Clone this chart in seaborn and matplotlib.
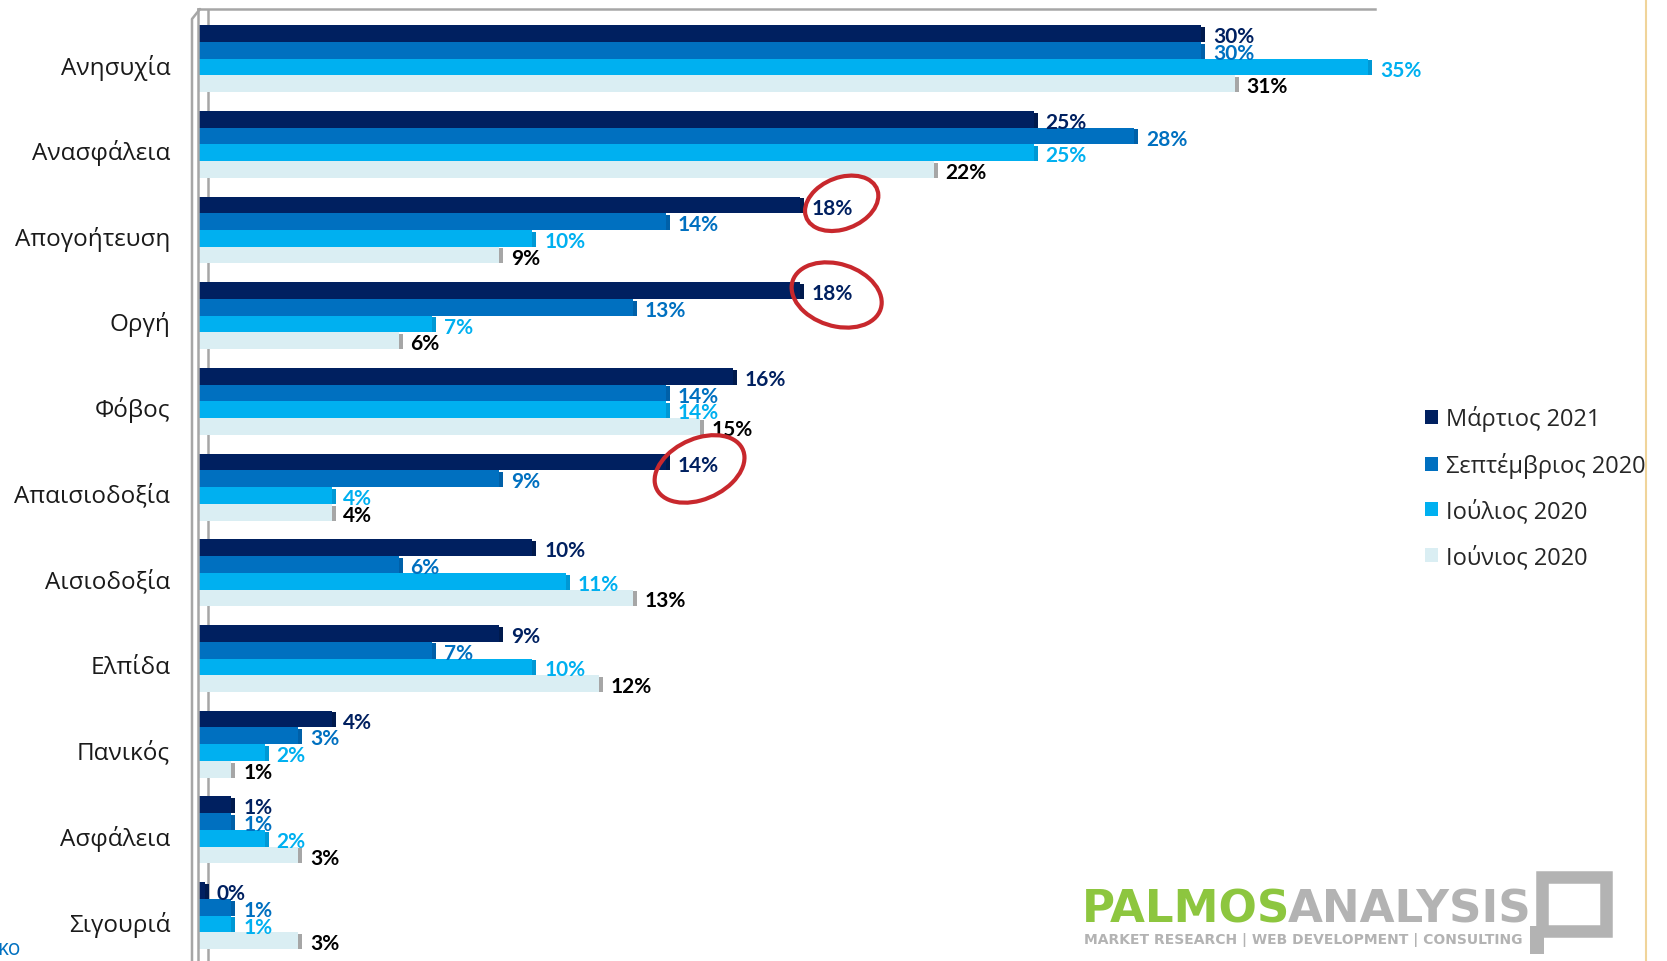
import pandas as pd
import matplotlib.pyplot as plt
import seaborn as sns
from matplotlib.patches import Patch, Rectangle, Ellipse
from matplotlib.lines import Line2D
from matplotlib.transforms import ScaledTranslation

# Emotions (survey), share of respondents per wave
categories = ['Ανησυχία', 'Ανασφάλεια', 'Απογοήτευση', 'Οργή', 'Φόβος', 'Απαισιοδοξία',
              'Αισιοδοξία', 'Ελπίδα', 'Πανικός', 'Ασφάλεια', 'Σιγουριά']
periods = ['Μάρτιος 2021', 'Σεπτέμβριος 2020', 'Ιούλιος 2020', 'Ιούνιος 2020']
mar_2021 = [30, 25, 18, 18, 16, 14, 10, 9, 4, 1, 0.2]
sep_2020 = [30, 28, 14, 13, 14, 9, 6, 7, 3, 1, 1]
jul_2020 = [35, 25, 10, 7, 14, 4, 11, 10, 2, 2, 1]
jun_2020 = [31, 22, 9, 6, 15, 4, 13, 12, 1, 3, 3]
labels_mar = ['30%', '25%', '18%', '18%', '16%', '14%', '10%', '9%', '4%', '1%', '0%']
labels_sep = ['30%', '28%', '14%', '13%', '14%', '9%', '6%', '7%', '3%', '1%', '1%']
labels_jul = ['35%', '25%', '10%', '7%', '14%', '4%', '11%', '10%', '2%', '2%', '1%']
labels_jun = ['31%', '22%', '9%', '6%', '15%', '4%', '13%', '12%', '1%', '3%', '3%']
circled = ['Απογοήτευση', 'Οργή', 'Απαισιοδοξία']

bar_colors = ['#002060', '#0070C0', '#00B0F0', '#DAEEF3']
cap_colors = ['#001a4d', '#0060a8', '#0098d4', '#a6a6a6']
text_colors = ['#002060', '#0070C0', '#00B0F0', '#000000']

W, H = 1667, 962

df = pd.DataFrame({
    'category': categories * 4,
    'period': [p for p in periods for _ in categories],
    'value': mar_2021 + sep_2020 + jul_2020 + jun_2020,
})
all_labels = [labels_mar, labels_sep, labels_jul, labels_jun]

sns.set_style('white')
plt.rcParams['font.family'] = ['Open Sans', 'DejaVu Sans']

fig = plt.figure(figsize=(W / 100, H / 100), dpi=100)
ax = fig.add_axes([198 / W, 0, 1177 / W, 952 / H])

sns.barplot(data=df, x='value', y='category', hue='period', order=categories,
            hue_order=periods, palette=bar_colors, orient='h', width=0.78,
            saturation=1, legend=False, ax=ax, zorder=2, linewidth=0)

ax.set_xlim(0, 35.2)
ax.set_ylim(10.53, -0.58)
ax.set_xlabel('')
ax.set_ylabel('')
ax.set_xticks([])
ax.tick_params(axis='y', length=0, pad=20, labelsize=17.5, labelcolor='#1a1a1a')
for lab in ax.get_yticklabels():
    lab.set_transform(lab.get_transform() + ScaledTranslation(0, -0.05, fig.dpi_scale_trans))
for side in ['right', 'bottom']:
    ax.spines[side].set_visible(False)
for side in ['left', 'top']:
    ax.spines[side].set_color('#a6a6a6')
    ax.spines[side].set_linewidth(1.8)

# back wall line of the 3D frame
ax.axvline(0.3, color='#a6a6a6', lw=1.8, zorder=0)

# value labels + little 3D end caps
for i, cont in enumerate(ax.containers):
    for j, bar in enumerate(cont):
        x_end = bar.get_x() + bar.get_width()
        y0, h = bar.get_y(), bar.get_height()
        ax.add_patch(Rectangle((x_end - 0.06, y0 + h * 0.1), 0.18, h * 0.9,
                               color=cap_colors[i], zorder=1.9, lw=0))
        ax.text(x_end + 0.35, y0 + h / 2 + 0.03, all_labels[i][j], ha='left', va='center',
                fontsize=15, fontweight='bold', family=['Lato', 'DejaVu Sans'],
                color=text_colors[i], zorder=4)

# hand drawn red circles around the March 2021 labels
circle_specs = {'Απογοήτευση': (1.25, 2.2, 0.62, -5, -0.02),
                'Οργή': (1.1, 2.7, 0.74, 4, 0.05),
                'Απαισιοδοξία': (1.0, 2.7, 0.74, -6, 0.08)}
mar_bars = ax.containers[0]
for name in circled:
    k = categories.index(name)
    bar = mar_bars[k]
    dx, w, hh, ang, dy = circle_specs[name]
    yc = bar.get_y() + bar.get_height() / 2 + dy
    ax.add_patch(Ellipse((mar_2021[k] + dx, yc), w, hh, angle=ang, fill=False,
                         ec='#c8282d', lw=3, zorder=5))

# outer edge of 3D wall
def px(x, y):
    return x / W, 1 - y / H

fig.add_artist(Line2D([px(192, 0)[0], px(192, 0)[0], px(200, 0)[0]],
                      [px(0, 962)[1], px(0, 20)[1], px(0, 10)[1]],
                      color='#a6a6a6', lw=1.8))

# legend
handles = [Patch(facecolor=c, edgecolor='none') for c in bar_colors]
fig.legend(handles, periods, loc='upper left', bbox_to_anchor=px(1416, 397),
           frameon=False, fontsize=17, handlelength=0.55, handleheight=0.55,
           handletextpad=0.3, labelspacing=0.88, borderaxespad=0)

# logo
logo_font = ['DejaVu Sans']
fig.text(*px(1290, 923), 'PALMOS', fontsize=32.5, fontweight='bold', color='#8dc63f',
         family=logo_font, ha='right', va='baseline')
fig.text(*px(1288, 923), 'ANALYSIS', fontsize=32.5, fontweight='bold', color='#b3b3b3',
         family=logo_font, ha='left', va='baseline')
fig.text(*px(1084, 944), 'MARKET RESEARCH | WEB DEVELOPMENT | CONSULTING', fontsize=10,
         fontweight='bold', color='#b3b3b3', family=logo_font, ha='left', va='baseline')
fig.add_artist(Rectangle(px(1542, 932), 64 / W, 54 / H, fill=False, ec='#b3b3b3', lw=9))
fig.add_artist(Rectangle(px(1530, 955), 14 / W, 28 / H, color='#b3b3b3', lw=0))

# cut off text in bottom left corner
fig.text(*px(-3, 950), 'κο', fontsize=15, color='#0070C0', ha='left', va='center')

# slide border on the right
fig.add_artist(Rectangle(px(1646, 962), 21 / W, 1, color='white', lw=0, zorder=10))
fig.add_artist(Line2D([1646 / W, 1646 / W], [0, 1], color='#f0d49a', lw=1.5, zorder=11))

fig.savefig('out.png', dpi=100)
